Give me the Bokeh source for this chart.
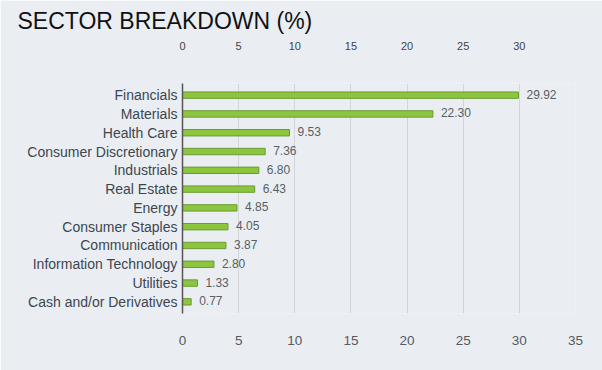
from bokeh.plotting import figure
from bokeh.models import ColumnDataSource, FactorRange, Range1d, FixedTicker, LabelSet, LinearAxis
from bokeh.core.properties import value
from bokeh.embed import file_html
from bokeh.resources import INLINE

sectors = ["Financials", "Materials", "Health Care", "Consumer Discretionary",
           "Industrials", "Real Estate", "Energy", "Consumer Staples",
           "Communication", "Information Technology", "Utilities",
           "Cash and/or Derivatives"]
weights = [29.92, 22.30, 9.53, 7.36, 6.80, 6.43, 4.85, 4.05, 3.87, 2.80, 1.33, 0.77]
x_ticks = [0, 5, 10, 15, 20, 25, 30]
title_text = "SECTOR BREAKDOWN (%)"

BG = "#eaeef2"
labels_txt = ["%.2f" % w for w in weights]
src = ColumnDataSource(dict(sector=sectors, w=weights, lab=labels_txt))

p = figure(width=602, height=370, output_backend="svg", toolbar_location=None,
           title=title_text,
           y_range=FactorRange(factors=list(reversed(sectors)), range_padding=0.02),
           x_range=Range1d(0, 35),
           min_border_left=182, min_border_right=27, min_border_top=79, min_border_bottom=57)
p.background_fill_color = BG
p.border_fill_color = BG
p.outline_line_color = None

# invisible spacer panel between title and frame
spacer = LinearAxis(ticker=FixedTicker(ticks=[]), axis_line_color=None,
                    major_tick_in=0, major_tick_out=34, minor_tick_in=0, minor_tick_out=0,
                    major_tick_line_color=None, minor_tick_line_color=None,
                    major_label_standoff=0)
p.add_layout(spacer, "above")

p.title.align = "left"
p.title.offset = 17 - 182
p.title.standoff = 10
p.title.text_font = "Liberation Sans"
p.title.text_font_size = "23px"
p.title.text_font_style = "normal"
p.title.text_color = "#111111"

p.hbar(y="sector", right="w", left=0, height=0.34, source=src,
       fill_color="#8cc63e", line_color="#6b9a34", line_width=1)

labels = LabelSet(x="w", y="sector", text="lab", source=src, x_offset=8, y_offset=1,
                  text_font=value("Liberation Sans"), text_font_size=value("12px"),
                  text_color="#595e64", text_baseline="middle")
p.add_layout(labels)

p.xaxis[0].ticker = FixedTicker(ticks=x_ticks)
p.below[0].axis_line_color = None
p.below[0].major_tick_line_color = None
p.below[0].minor_tick_line_color = None
p.below[0].major_label_text_font = "Liberation Sans"
p.below[0].major_label_text_font_size = "13.5px"
p.below[0].major_label_text_color = "#555a60"
p.below[0].major_label_standoff = 16

p.yaxis.axis_line_color = "#555555"
p.yaxis.axis_line_width = 1.5
p.yaxis.major_tick_line_color = None
p.yaxis.minor_tick_line_color = None
p.yaxis.major_tick_out = 0
p.yaxis.major_tick_in = 0
p.yaxis.major_label_text_font = "Liberation Sans"
p.yaxis.major_label_text_font_size = "14px"
p.yaxis.major_label_text_color = "#3d4650"
p.yaxis.major_label_standoff = 5

p.xgrid.ticker = FixedTicker(ticks=x_ticks)
p.xgrid.grid_line_color = "#d3d6d9"
p.ygrid.grid_line_color = None

html = file_html(p, INLINE)
html = html.replace("<body>", '<body style="background:%s;">' % BG, 1)
open("out.html", "w").write(html)
